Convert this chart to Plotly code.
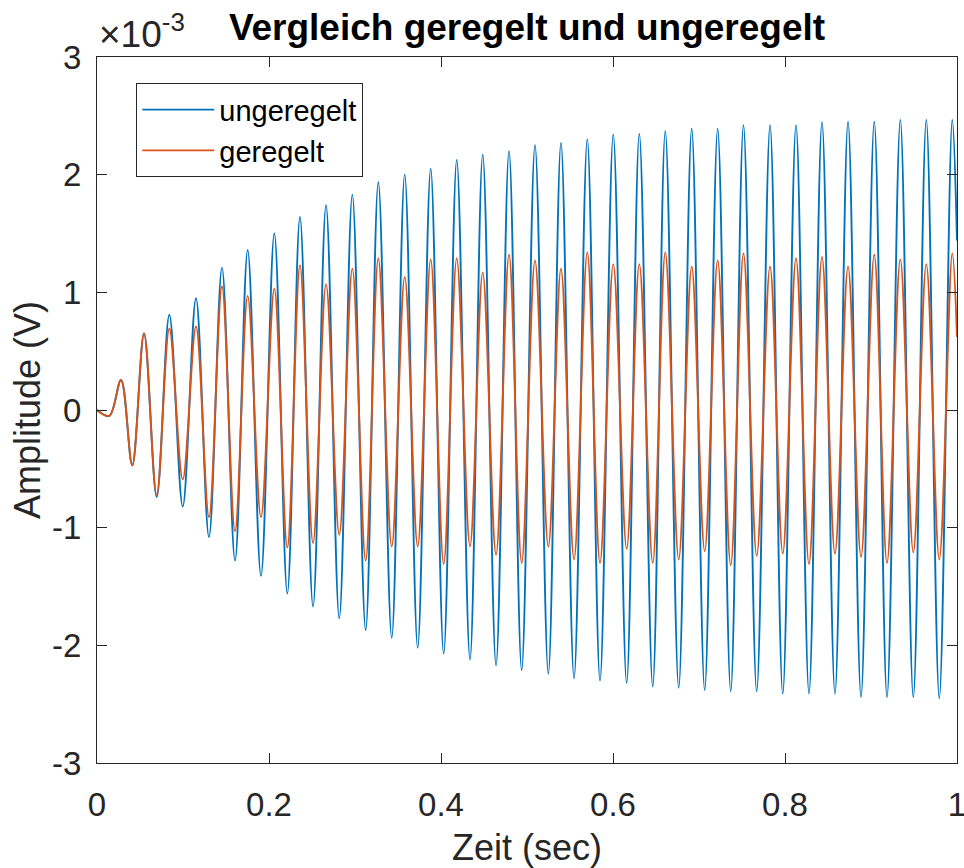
import plotly.graph_objects as go

# Times (s) of the local minima and maxima
t_troughs = [0.0143, 0.0410, 0.0694, 0.0997, 0.1302, 0.1605, 0.1907, 0.2213, 0.2512, 0.2817,
             0.3124, 0.3427, 0.3729, 0.4031, 0.4337, 0.4640, 0.4938, 0.5248, 0.5547, 0.5849,
             0.6159, 0.6462, 0.6764, 0.7066, 0.7369, 0.7671, 0.7974, 0.8279, 0.8581, 0.8884,
             0.9186, 0.9492, 0.9794]
t_peaks = [0.0279, 0.0547, 0.0841, 0.1151, 0.1453, 0.1752, 0.2062, 0.2360, 0.2663, 0.2969,
           0.3271, 0.3578, 0.3880, 0.4183, 0.4485, 0.4791, 0.5093, 0.5395, 0.5701, 0.6003,
           0.6306, 0.6608, 0.6915, 0.7217, 0.7517, 0.7826, 0.8128, 0.8430, 0.8733, 0.9038,
           0.9341, 0.9643, 0.9945]
t_start, t_end = 0.0, 1.0

# Amplitudes in units of 1e-3 V
ungeregelt_troughs = [-0.05, -0.47, -0.74, -0.82, -1.08, -1.28, -1.41, -1.56, -1.67, -1.77,
                      -1.87, -1.935, -2.02, -2.07, -2.12, -2.17, -2.21, -2.24, -2.28, -2.30,
                      -2.32, -2.35, -2.36, -2.38, -2.39, -2.39, -2.41, -2.41, -2.41, -2.44,
                      -2.44, -2.44, -2.45]
ungeregelt_peaks = [0.255, 0.65, 0.81, 0.95, 1.21, 1.36, 1.50, 1.64, 1.74, 1.83,
                    1.935, 2.00, 2.05, 2.125, 2.17, 2.20, 2.25, 2.27, 2.30, 2.34,
                    2.345, 2.37, 2.39, 2.39, 2.42, 2.42, 2.42, 2.445, 2.45, 2.45,
                    2.465, 2.465, 2.465]
ungeregelt_start, ungeregelt_end = 0.0, 1.44

geregelt_troughs = [-0.05, -0.47, -0.72, -0.59, -0.91, -1.03, -0.91, -1.17, -1.13, -1.06,
                    -1.28, -1.16, -1.16, -1.31, -1.16, -1.23, -1.30, -1.16, -1.27, -1.30,
                    -1.18, -1.30, -1.27, -1.20, -1.32, -1.24, -1.22, -1.31, -1.22, -1.25,
                    -1.30, -1.21, -1.27]
geregelt_peaks = [0.255, 0.65, 0.69, 0.71, 1.05, 0.97, 1.03, 1.23, 1.07, 1.20,
                  1.29, 1.13, 1.28, 1.29, 1.17, 1.32, 1.27, 1.20, 1.34, 1.24,
                  1.24, 1.34, 1.22, 1.27, 1.33, 1.22, 1.29, 1.30, 1.22, 1.32,
                  1.28, 1.24, 1.33]
geregelt_start, geregelt_end = 0.0, 0.62

x_ticks = [0, 0.2, 0.4, 0.6, 0.8, 1]
x_ticklabels = ["0", "0.2", "0.4", "0.6", "0.8", "1"]
y_ticks = [-3, -2, -1, 0, 1, 2, 3]
y_ticklabels = ["-3", "-2", "-1", "0", "1", "2", "3"]


def interleave(a_list, b_list, first, last):
    out = [first]
    for a, b in zip(a_list, b_list):
        out += [a, b]
    out.append(last)
    return out


t = interleave(t_troughs, t_peaks, t_start, t_end)
y_u = interleave(ungeregelt_troughs, ungeregelt_peaks, ungeregelt_start, ungeregelt_end)
y_g = interleave(geregelt_troughs, geregelt_peaks, geregelt_start, geregelt_end)

FONT = "Liberation Sans, Arial, Helvetica, sans-serif"
AX = "#262626"

fig = go.Figure()
fig.add_trace(go.Scatter(x=t, y=y_u, mode="lines", name="ungeregelt",
                         line=dict(color="#0072BD", width=1.9, shape="spline", smoothing=1.0)))
fig.add_trace(go.Scatter(x=t, y=y_g, mode="lines", name="geregelt",
                         line=dict(color="#D95319", width=1.9, shape="spline", smoothing=1.0)))

fig.update_layout(
    width=964, height=868,
    margin=dict(l=97, r=7, t=57, b=105, autoexpand=False),
    paper_bgcolor="white", plot_bgcolor="white",
    font=dict(family=FONT, size=33, color=AX),
    title=dict(text="<b>Vergleich geregelt und ungeregelt</b>",
               font=dict(family=FONT, size=37, color="#000000"),
               x=0.5, xref="paper", xanchor="center",
               y=1 - 27 / 868, yref="container", yanchor="middle"),
    showlegend=True,
    legend=dict(x=(136 - 97) / 860, y=(763 - 83) / 706, xanchor="left", yanchor="top",
                bgcolor="white", bordercolor=AX, borderwidth=1.3,
                font=dict(family=FONT, size=29, color="#000000"),
                itemwidth=72, tracegroupgap=0),
    xaxis=dict(range=[0, 1], tickvals=x_ticks, ticktext=x_ticklabels,
               showgrid=False, zeroline=False, showline=True, linecolor=AX, linewidth=1.3,
               mirror="ticks", ticks="inside", ticklen=10, tickwidth=1.3, tickcolor=AX,
               ticklabelstandoff=12, ticklabeloverflow="allow", automargin=False,
               title=dict(text="Zeit (sec)", font=dict(family=FONT, size=36, color=AX), standoff=13)),
    yaxis=dict(range=[-3, 3], tickvals=y_ticks, ticktext=y_ticklabels,
               showgrid=False, zeroline=False, showline=True, linecolor=AX, linewidth=1.3,
               mirror="ticks", ticks="inside", ticklen=10, tickwidth=1.3, tickcolor=AX,
               ticklabelstandoff=8, ticklabeloverflow="allow", automargin=False,
               title=dict(text="Amplitude (V)", font=dict(family=FONT, size=36, color=AX), standoff=0)),
    annotations=[dict(text="×10<sup>-3</sup>", xref="paper", yref="paper", x=0, y=1,
                      xanchor="left", yanchor="bottom", yshift=0, showarrow=False,
                      font=dict(family=FONT, size=37, color=AX))],
)

fig.write_html("out.html")
